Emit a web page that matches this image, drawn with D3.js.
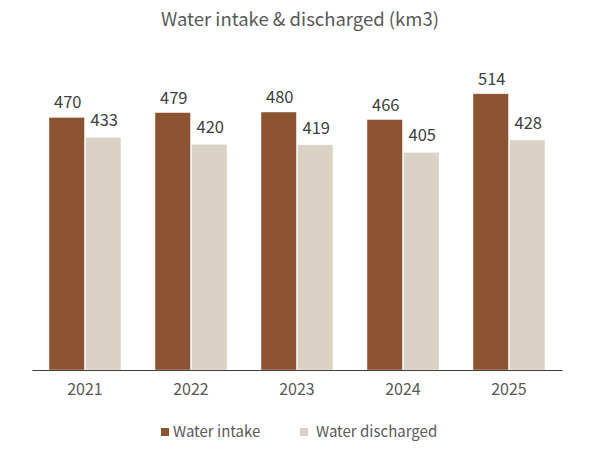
<!DOCTYPE html>
<html>
<head>
	<meta charset="utf-8">
	<script src="https://cdn.jsdelivr.net/npm/d3@7"></script>
	<style>
		body { margin: 0; background: #fff; }
		text { font-family: "Noto Sans CJK JP", "Noto Sans", sans-serif; }
	</style>
</head>
<body>
	<svg width="596" height="466"></svg>
<script>
	// chart data
	var years      = ["2021", "2022", "2023", "2024", "2025"];
	var series     = ["Water intake", "Water discharged"];
	var intake     = [470, 479, 480, 466, 514];
	var discharged = [433, 420, 419, 405, 428];
	var colors     = ["#8b5330", "#dad2c4"];

	var svg = d3.select("svg"),
		width  = +svg.attr("width"),
		height = +svg.attr("height"),
		left = 32, right = 562, base = 370;

	var rows = years.map(function(y, i) {
		return { year: y, values: [intake[i], discharged[i]] };
	});

	var x0 = d3.scaleBand().domain(years).range([left, right]).padding(0);
	var x1 = d3.scaleBand().domain(series).range([17, x0.bandwidth() - 17]).paddingInner(0.03);
	var y  = d3.scaleLinear().domain([0, 600]).range([base, 47.5]);
	var color = d3.scaleOrdinal().domain(series).range(colors);

	// title
	svg.append("text")
		.attr("x", width / 2 + 2)
		.attr("y", 26)
		.attr("text-anchor", "middle")
		.attr("font-size", "18.5px")
		.attr("fill", "#595959")
		.text("Water intake & discharged (km3)");

	// bars
	var groups = svg.selectAll(".grp")
		.data(rows)
		.enter().append("g")
		.attr("class", "grp")
		.attr("transform", function(d) { return "translate(" + x0(d.year) + ",0)"; });

	var cells = groups.selectAll(".cell")
		.data(function(d) { return d.values.map(function(v, j) { return { key: series[j], value: v }; }); })
		.enter().append("g")
		.attr("class", "cell");

	cells.append("rect")
		.attr("x", function(d) { return x1(d.key); })
		.attr("y", function(d) { return y(d.value); })
		.attr("width", x1.bandwidth())
		.attr("height", function(d) { return base - y(d.value); })
		.attr("fill", function(d) { return color(d.key); })
		.attr("stroke", "#fff")
		.attr("stroke-opacity", 0.6)
		.attr("stroke-width", 0.75);

	// value labels
	cells.append("text")
		.attr("x", function(d) { return x1(d.key) + x1.bandwidth() / 2 + 1; })
		.attr("y", function(d, i) { return y(d.value) - (i == 0 ? 9 : 11); })
		.attr("text-anchor", "middle")
		.attr("font-size", "16.5px")
		.attr("fill", "#404040")
		.text(function(d) { return d.value; });

	// x axis
	var xAxis = svg.append("g")
		.attr("transform", "translate(0," + base + ")")
		.call(d3.axisBottom(x0).tickSize(0).tickPadding(14));
	xAxis.select(".domain").attr("stroke", "#404040").attr("stroke-width", 1.2);
	xAxis.selectAll("text")
		.attr("font-size", "16px")
		.attr("fill", "#595959")
		.style("font-family", "'Noto Sans CJK JP', 'Noto Sans', sans-serif");

	// legend
	var legendX = [161, 300];
	var legend = svg.selectAll(".leg")
		.data(series)
		.enter().append("g")
		.attr("class", "leg")
		.attr("transform", function(d, i) { return "translate(" + legendX[i] + ",432)"; });
	legend.append("rect")
		.attr("x", 0).attr("y", -4)
		.attr("width", 8).attr("height", 8)
		.attr("fill", function(d) { return color(d); });
	legend.append("text")
		.attr("x", function(d, i) { return i == 0 ? 12 : 16; })
		.attr("dy", "0.36em")
		.attr("font-size", "15px")
		.attr("fill", "#595959")
		.text(function(d) { return d; });
</script>
</body>
</html>
